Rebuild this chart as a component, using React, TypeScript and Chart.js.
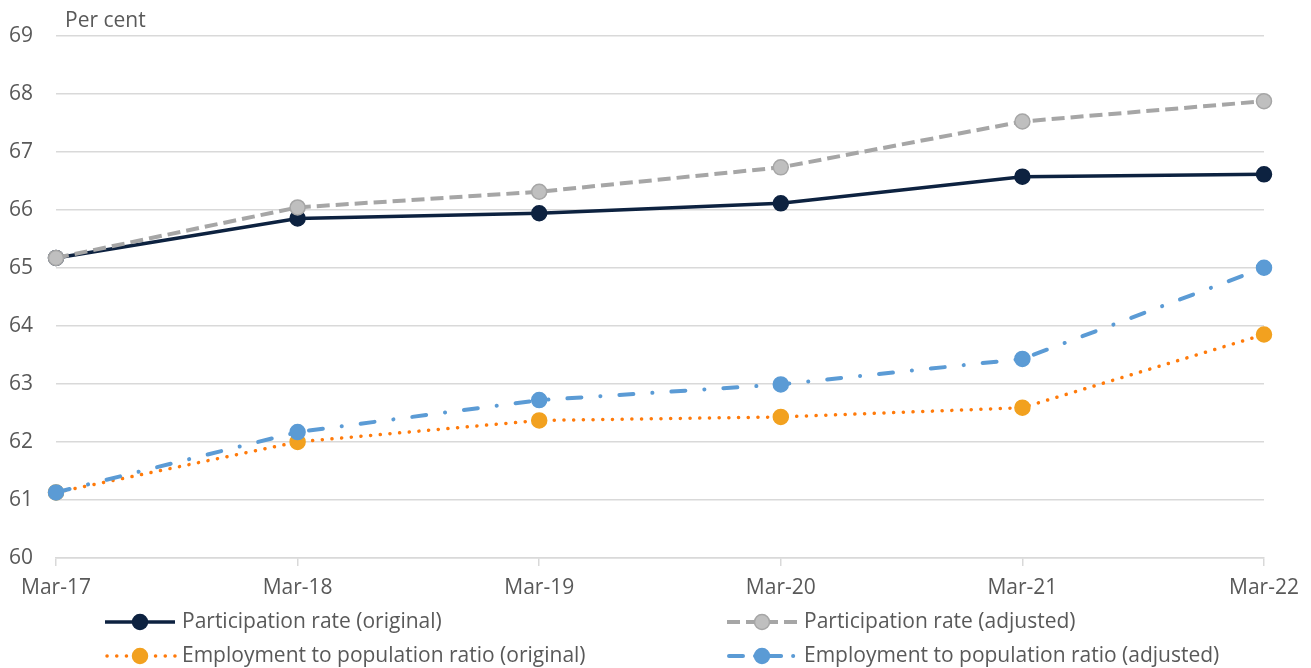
import React, { useEffect, useRef } from "react";
import { Chart, registerables } from "chart.js";

Chart.register(...registerables);

const categories = ["Mar-17", "Mar-18", "Mar-19", "Mar-20", "Mar-21", "Mar-22"];
const participationOriginal = [65.17, 65.85, 65.94, 66.11, 66.57, 66.61];
const participationAdjusted = [65.17, 66.04, 66.31, 66.73, 67.52, 67.87];
const employmentOriginal = [61.13, 62.0, 62.37, 62.43, 62.59, 63.85];
const employmentAdjusted = [61.13, 62.17, 62.72, 62.99, 63.43, 65.0];
const yMin = 60;
const yMax = 69;
const yLabel = "Per cent";

const FONT = "'Open Sans', sans-serif";
const FONT_SIZE = 21;
const TEXT = "#595959";

const seriesStyles = {
  partOrig: { label: "Participation rate (original)", line: "#0D2240", fill: "#0D2240", border: "#0D2240", dash: [] as number[], cap: "butt" as CanvasLineCap, width: 3.5 },
  partAdj: { label: "Participation rate (adjusted)", line: "#A6A6A6", fill: "#BFBFBF", border: "#A6A6A6", dash: [13, 6], cap: "butt" as CanvasLineCap, width: 4 },
  empOrig: { label: "Employment to population ratio (original)", line: "#FF7A0A", fill: "#F2A11F", border: "#F2A11F", dash: [0.1, 9.6], cap: "round" as CanvasLineCap, width: 3.5 },
  empAdj: { label: "Employment to population ratio (adjusted)", line: "#5B9BD5", fill: "#5B9BD5", border: "#5B9BD5", dash: [14, 19, 0.1, 19], cap: "round" as CanvasLineCap, width: 4 },
};

const extras = {
  id: "extras",
  afterDraw(chart: any) {
    const ctx = chart.ctx as CanvasRenderingContext2D;
    const area = chart.chartArea;
    ctx.save();
    ctx.fillStyle = TEXT;
    ctx.font = `${FONT_SIZE}px ${FONT}`;
    ctx.textBaseline = "middle";
    ctx.textAlign = "left";
    ctx.fillText(yLabel, area.left + 9, 21);

    const items = [
      { s: seriesStyles.partOrig, x: 105, y: 622 },
      { s: seriesStyles.partAdj, x: 727, y: 622 },
      { s: seriesStyles.empOrig, x: 105, y: 656 },
      { s: seriesStyles.empAdj, x: 727, y: 656 },
    ];
    for (const it of items) {
      const s = it.s;
      ctx.save();
      ctx.strokeStyle = s.line;
      ctx.lineWidth = s.width;
      ctx.lineCap = s.cap;
      ctx.setLineDash(s.dash.length ? (s === seriesStyles.empAdj ? [14, 12, 0.1, 12] : s.dash) : []);
      ctx.beginPath();
      ctx.moveTo(it.x + (s.cap === "round" ? 2 : 0), it.y);
      ctx.lineTo(it.x + 70, it.y);
      ctx.stroke();
      ctx.setLineDash([]);
      ctx.beginPath();
      ctx.arc(it.x + 35, it.y, 7.5, 0, Math.PI * 2);
      ctx.fillStyle = s.fill;
      ctx.fill();
      ctx.strokeStyle = s.border;
      ctx.lineWidth = 1.5;
      ctx.stroke();
      ctx.restore();
      ctx.fillStyle = TEXT;
      ctx.font = `${FONT_SIZE}px ${FONT}`;
      ctx.fillText(s.label, it.x + 77, it.y);
    }
    ctx.restore();
  },
};

function ds(s: any, data: number[]) {
  return {
    label: s.label,
    data,
    borderColor: s.line,
    borderWidth: s.width,
    borderDash: s.dash,
    borderCapStyle: s.cap,
    pointRadius: 7.5,
    pointHoverRadius: 7.5,
    pointBackgroundColor: s.fill,
    pointBorderColor: s.border,
    pointBorderWidth: 1.5,
    tension: 0,
    fill: false,
  };
}

export default function App() {
  const ref = useRef<HTMLCanvasElement | null>(null);
  useEffect(() => {
    if (!ref.current) return;
    const chart = new Chart(ref.current, {
      type: "line",
      data: {
        labels: categories,
        datasets: [
          ds(seriesStyles.partAdj, participationAdjusted),
          ds(seriesStyles.partOrig, participationOriginal),
          ds(seriesStyles.empAdj, employmentAdjusted),
          ds(seriesStyles.empOrig, employmentOriginal),
        ] as any,
      },
      options: {
        animation: false,
        responsive: true,
        maintainAspectRatio: false,
        layout: { padding: { top: 31, left: 0, right: 47, bottom: 60 } },
        plugins: { legend: { display: false }, tooltip: { enabled: false } },
        scales: {
          x: {
            offset: false,
            grid: { drawOnChartArea: false, drawTicks: true, tickLength: 8, color: "#D9D9D9", lineWidth: 1.5 },
            border: { color: "#D9D9D9", width: 1.5 },
            ticks: { color: TEXT, font: { family: FONT, size: FONT_SIZE }, padding: 9, maxRotation: 0 },
            afterFit(scale: any) { scale.height = 50; },
          },
          y: {
            min: yMin,
            max: yMax,
            grid: { color: "#D9D9D9", lineWidth: 1.5, drawTicks: false },
            border: { display: false },
            ticks: { stepSize: 1, color: TEXT, font: { family: FONT, size: FONT_SIZE }, padding: 23 },
            afterFit(scale: any) { scale.width = 56; },
          },
        },
      } as any,
      plugins: [extras],
    });
    return () => chart.destroy();
  }, []);
  return (
    <div style={{ position: "fixed", left: 0, top: 0, width: 1311, height: 668, background: "#fff" }}>
      <canvas ref={ref} />
    </div>
  );
}
